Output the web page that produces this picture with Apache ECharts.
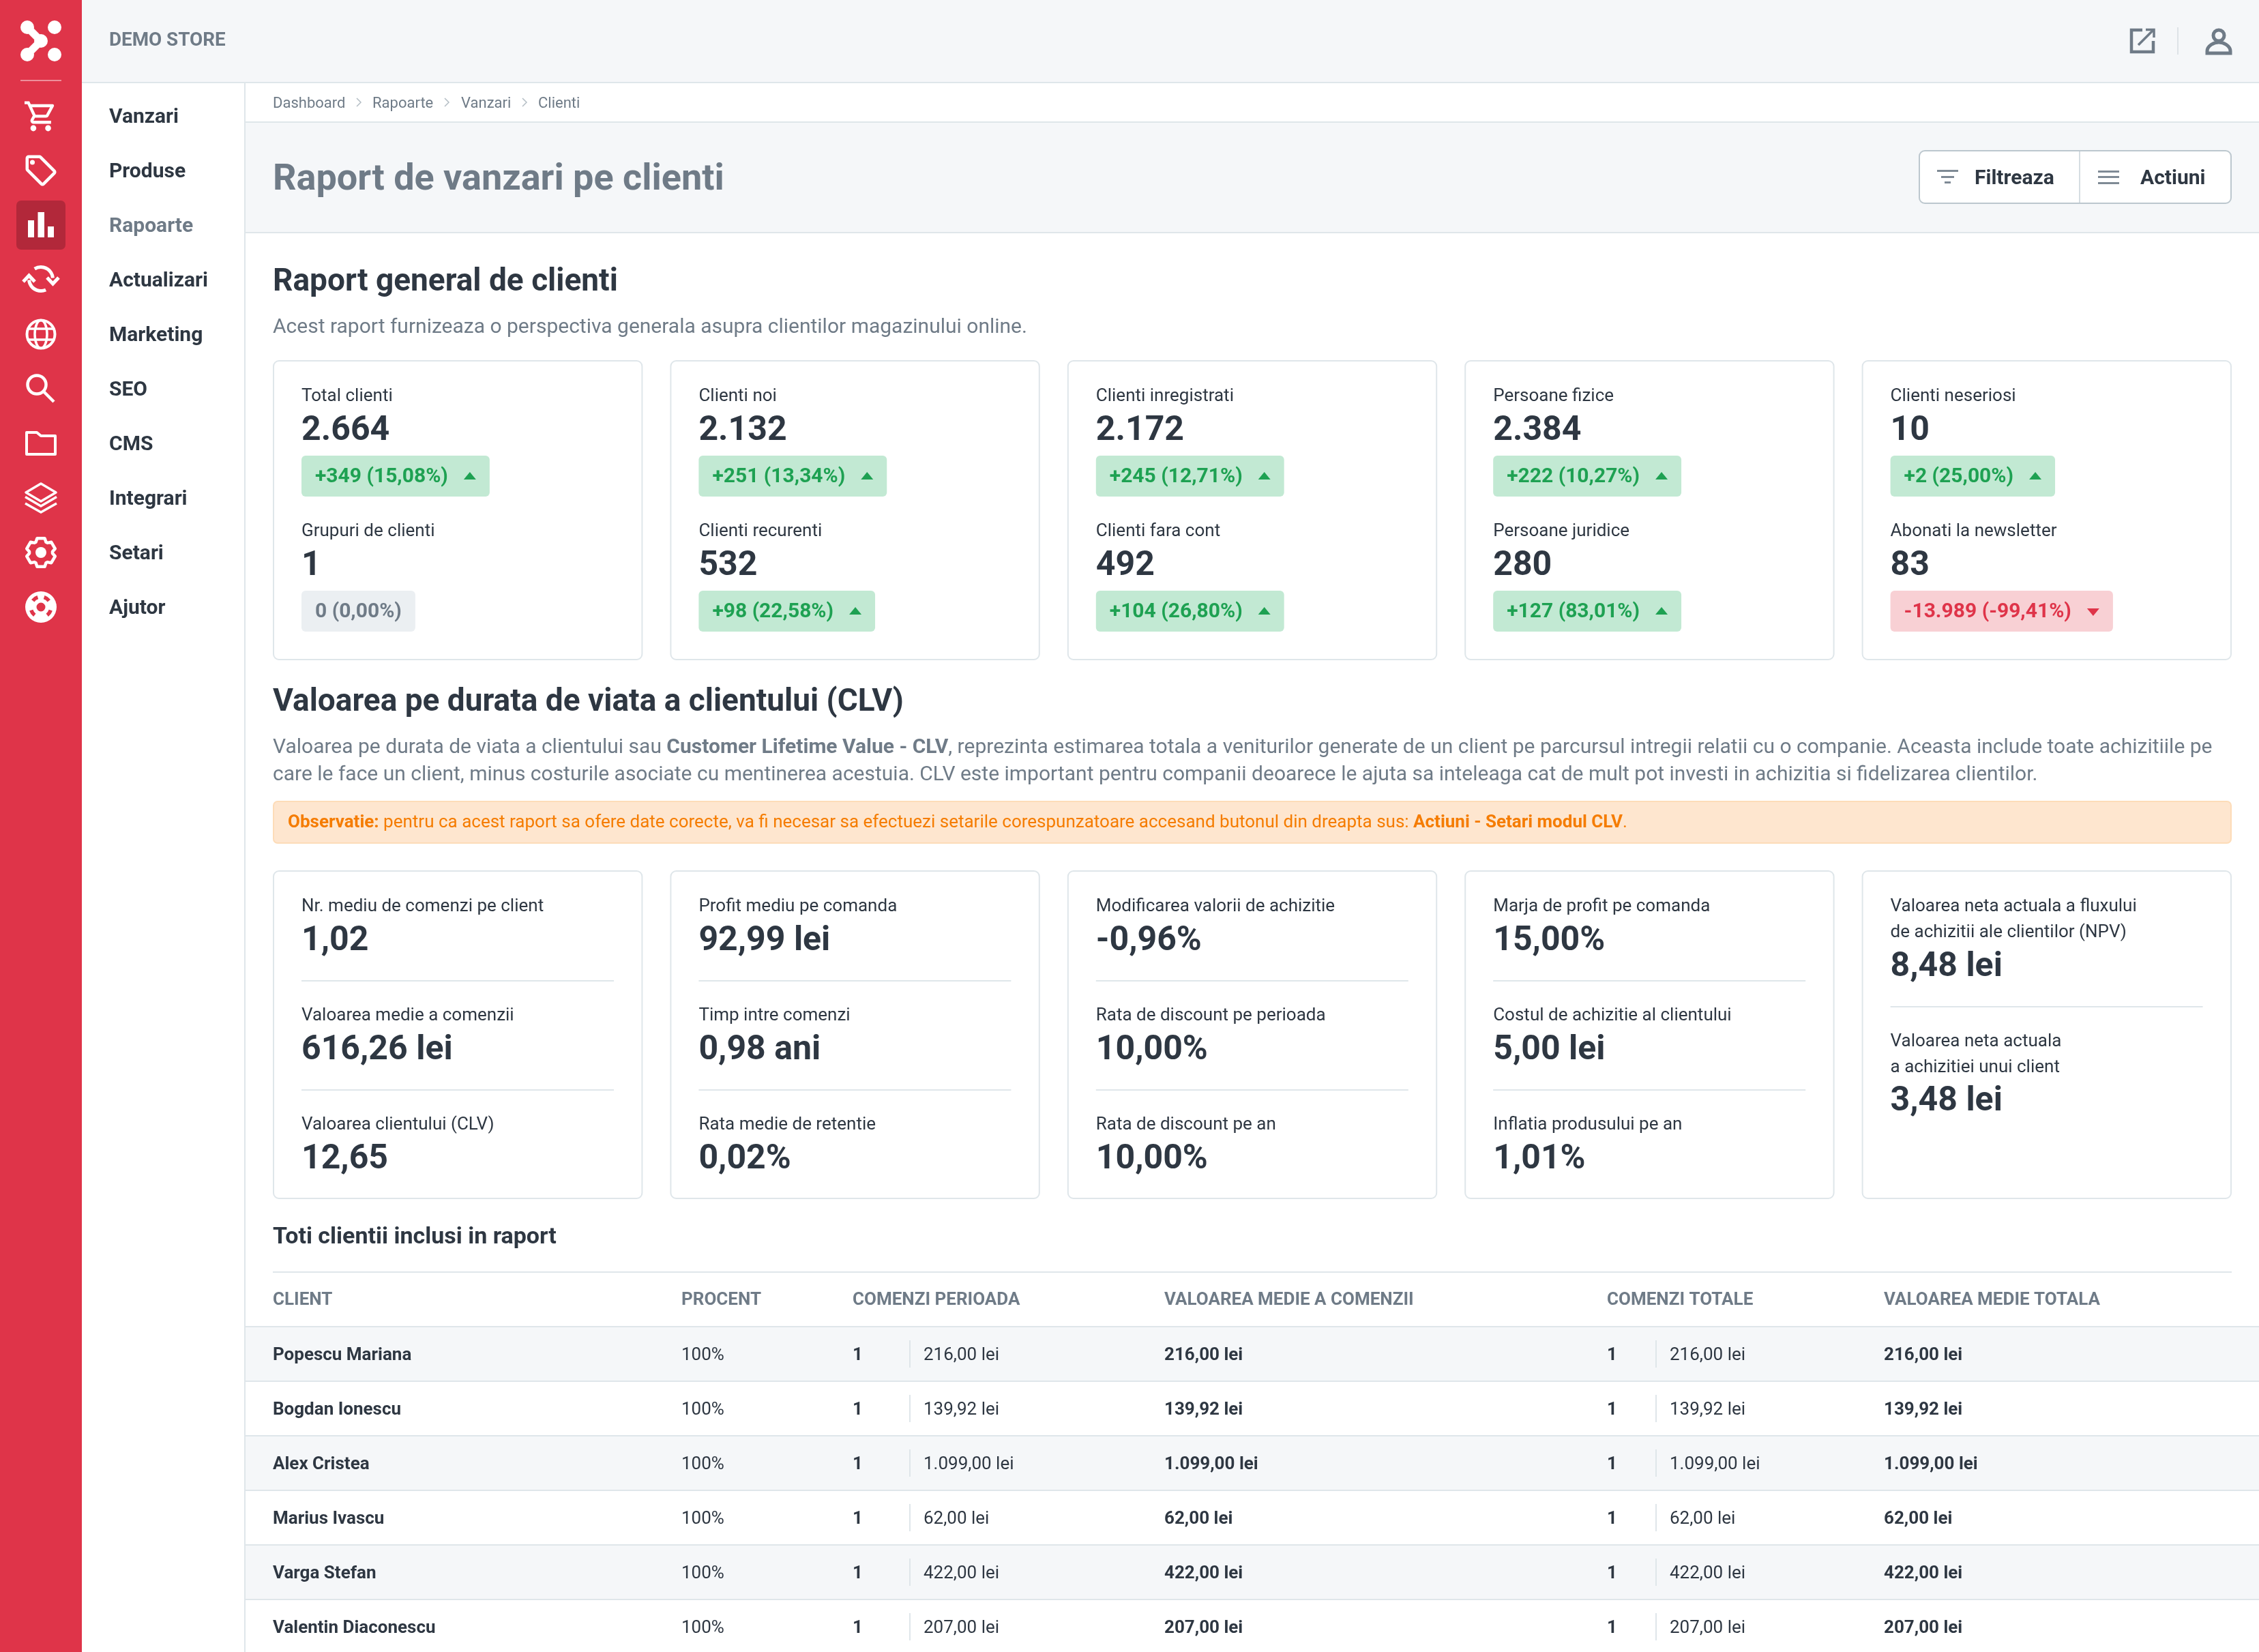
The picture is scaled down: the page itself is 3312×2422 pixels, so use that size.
<!DOCTYPE html>
<html>
<head>
<meta charset="utf-8">
<title>Raport de vanzari pe clienti</title>
<style>
html,body{margin:0;padding:0;background:#fff;}
#main{width:3312px;height:2422px;}
</style>
<script src="https://cdn.jsdelivr.net/npm/echarts@6/dist/echarts.min.js"></script>
</head>
<body>
<div id="main"></div>
<script>
// menu + breadcrumb
var menuItems = ['Vanzari','Produse','Rapoarte','Actualizari','Marketing','SEO','CMS','Integrari','Setari','Ajutor'];
var crumbs = ['Dashboard','Rapoarte','Vanzari','Clienti'];

// general report cards, top and bottom half of each card
var topLabels = ['Total clienti','Clienti noi','Clienti inregistrati','Persoane fizice','Clienti neseriosi'];
var topValues = ['2.664','2.132','2.172','2.384','10'];
var topDeltas = ['+349 (15,08%)','+251 (13,34%)','+245 (12,71%)','+222 (10,27%)','+2 (25,00%)'];
var bottomLabels = ['Grupuri de clienti','Clienti recurenti','Clienti fara cont','Persoane juridice','Abonati la newsletter'];
var bottomValues = ['1','532','492','280','83'];
var bottomDeltas = ['0 (0,00%)','+98 (22,58%)','+104 (26,80%)','+127 (83,01%)','-13.989 (-99,41%)'];

// clv cards
var clvLabels = [
    ['Nr. mediu de comenzi pe client','Valoarea medie a comenzii','Valoarea clientului (CLV)'],
    ['Profit mediu pe comanda','Timp intre comenzi','Rata medie de retentie'],
    ['Modificarea valorii de achizitie','Rata de discount pe perioada','Rata de discount pe an'],
    ['Marja de profit pe comanda','Costul de achizitie al clientului','Inflatia produsului pe an']
];
var clvValues = [
    ['1,02','616,26 lei','12,65'],
    ['92,99 lei','0,98 ani','0,02%'],
    ['-0,96%','10,00%','10,00%'],
    ['15,00%','5,00 lei','1,01%']
];
var npvLabels = [['Valoarea neta actuala a fluxului','de achizitii ale clientilor (NPV)'],['Valoarea neta actuala','a achizitiei unui client']];
var npvValues = ['8,48 lei','3,48 lei'];

// table
var tableHeaders = ['CLIENT','PROCENT','COMENZI PERIOADA','VALOAREA MEDIE A COMENZII','COMENZI TOTALE','VALOAREA MEDIE TOTALA'];
var clients = ['Popescu Mariana','Bogdan Ionescu','Alex Cristea','Marius Ivascu','Varga Stefan','Valentin Diaconescu'];
var percents = ['100%','100%','100%','100%','100%','100%'];
var ordersPeriod = ['1','1','1','1','1','1'];
var valuesPeriod = ['216,00 lei','139,92 lei','1.099,00 lei','62,00 lei','422,00 lei','207,00 lei'];
var averagePeriod = ['216,00 lei','139,92 lei','1.099,00 lei','62,00 lei','422,00 lei','207,00 lei'];
var ordersTotal = ['1','1','1','1','1','1'];
var valuesTotal = ['216,00 lei','139,92 lei','1.099,00 lei','62,00 lei','422,00 lei','207,00 lei'];
var averageTotal = ['216,00 lei','139,92 lei','1.099,00 lei','62,00 lei','422,00 lei','207,00 lei'];

var RED = '#df3449', DARK = '#2e3742', MUTED = '#6f7b87', BORDER = '#dfe6ea', SOFT = '#f5f7f9', WHITE = '#fff';
var FONT = 'Roboto';
var els = [];
var measureCtx = document.createElement('canvas').getContext('2d');

// graphic component has no 'path' type, so the svg glyphs get registered as shapes
echarts.graphic.registerShape('cartIcon', echarts.graphic.extendPath('M15.55 13c.75 0 1.41-.41 1.75-1.03l3.58-6.49c.37-.66-.11-1.48-.87-1.48H5.21l-.94-2H1v2h2l3.6 7.59-1.35 2.44C4.52 15.37 5.48 17 7 17h12v-2H7l1.1-2h7.45zM6.16 6h12.15l-2.76 5H8.53L6.16 6zM7 18c-1.1 0-1.99.9-1.99 2S5.9 22 7 22s2-.9 2-2-.9-2-2-2zm10 0c-1.1 0-1.99.9-1.99 2s.89 2 1.99 2 2-.9 2-2-.9-2-2-2z'));
echarts.graphic.registerShape('tagIcon', echarts.graphic.extendPath('M21.41 11.58l-9-9C12.05 2.22 11.55 2 11 2H4c-1.1 0-2 .9-2 2v7c0 .55.22 1.05.59 1.42l9 9c.36.36.86.58 1.41.58s1.05-.22 1.41-.59l7-7c.37-.36.59-.86.59-1.41s-.23-1.06-.59-1.42zM13 20.01L4 11V4h7v-.01l9 9-7 7.02z'));
echarts.graphic.registerShape('userBody', echarts.graphic.extendPath('M0 16 v-3 c0-8 10-13 17-13 s17 5 17 13 v3z'));

function font(weight, size){ return weight + ' ' + size + 'px ' + FONT; }
function measure(t, f){ measureCtx.font = f; return measureCtx.measureText(t).width; }

function rect(x, y, w, h, fill, r, stroke, lw){
    els.push({type:'rect', shape:{x:x, y:y, width:w, height:h, r:r || 0}, style:{fill:fill || 'none', stroke:stroke || 'none', lineWidth:lw || 0}, silent:true});
}
function line(x1, y1, x2, y2, color, lw){
    els.push({type:'line', shape:{x1:x1, y1:y1, x2:x2, y2:y2}, style:{stroke:color, lineWidth:lw || 2, lineCap:'butt'}, silent:true});
}
function txt(x, y, t, f, fill){
    // canvas middle sits a bit above the css line box centre, push down by 10% of the size
    var size = parseFloat(f.split(' ')[1]);
    els.push({type:'text', x:x, y:y + size * 0.1, style:{text:t, font:f, fill:fill, verticalAlign:'middle', align:'left'}, silent:true});
}
function poly(points, fill, stroke, lw){
    els.push({type:'polygon', shape:{points:points}, style:{fill:fill || 'none', stroke:stroke || 'none', lineWidth:lw || 0, lineJoin:'round'}, silent:true});
}
function polyline(points, stroke, lw){
    els.push({type:'polyline', shape:{points:points}, style:{fill:'none', stroke:stroke, lineWidth:lw, lineJoin:'miter'}, silent:true});
}
function circle(cx, cy, r, fill, stroke, lw){
    els.push({type:'circle', shape:{cx:cx, cy:cy, r:r}, style:{fill:fill || 'none', stroke:stroke || 'none', lineWidth:lw || 0}, silent:true});
}
function arc(cx, cy, r, a0, a1, stroke, lw){
    els.push({type:'arc', shape:{cx:cx, cy:cy, r:r, startAngle:a0 * Math.PI / 180, endAngle:a1 * Math.PI / 180, clockwise:true}, style:{fill:'none', stroke:stroke, lineWidth:lw}, silent:true});
}

/**
 * sidebar icons, one small function per glyph would be too long so they all sit here
 */
function drawRail(){
    rect(0, 0, 120, 2422, RED);
    // logo
    circle(40, 40, 10, WHITE); circle(80, 40, 10, WHITE); circle(40, 80, 10, WHITE); circle(80, 80, 10, WHITE);
    circle(60, 60, 10, WHITE);
    line(40, 40, 60, 60, WHITE, 11); line(40, 80, 60, 60, WHITE, 11);
    rect(30, 117, 60, 2, 'rgba(255,255,255,0.45)');
    // cart
    els.push({type:'cartIcon', x:33.8, y:144, scaleX:2.16, scaleY:2.2, style:{fill:WHITE}, silent:true});
    // tag
    els.push({type:'tagIcon', x:33, y:223, scaleX:2.25, scaleY:2.25, style:{fill:WHITE}, silent:true});
    circle(47.5, 238, 3.5, WHITE);
    // active reports icon
    rect(24, 294, 72, 72, '#b2283a', 7);
    rect(41, 323, 9, 25, WHITE); rect(55.5, 311, 9.5, 37, WHITE); rect(70, 332, 9, 16, WHITE);
    // sync
    arc(60, 409, 17.5, -122, -5, WHITE, 5);
    arc(60, 409, 17.5, 66, 175, WHITE, 5);
    polyline([[69,407],[77.5,416],[86,407]], WHITE, 5);
    polyline([[34,413],[42.5,404],[51,413]], WHITE, 5);
    // globe
    circle(60, 490, 20.5, null, WHITE, 4);
    els.push({type:'ellipse', shape:{cx:60, cy:490, rx:9, ry:20.5}, style:{fill:'none', stroke:WHITE, lineWidth:3.5}, silent:true});
    line(42, 482, 78, 482, WHITE, 3.5); line(42, 498, 78, 498, WHITE, 3.5);
    // search
    circle(54, 564, 13.5, null, WHITE, 4.5);
    line(64, 574, 79, 589, WHITE, 4.5);
    // folder
    poly([[39,634],[54,634],[60,639],[81,639],[81,666],[39,666]], null, WHITE, 4);
    // layers
    poly([[60,709],[82,722],[60,735],[38,722]], null, WHITE, 3.5);
    polyline([[37,728.5],[60,742],[83,728.5]], WHITE, 3.5);
    polyline([[37,738],[60,751],[83,738]], WHITE, 3.5);
    // gear
    var gear = [];
    for (var k = 0; k < 6; k++) {
        var a = -90 + 60 * k;
        [[17,-26],[21.5,-15],[21.5,15],[17,26]].forEach(function(p){
            var t = (a + p[1]) * Math.PI / 180;
            gear.push([60 + p[0] * Math.cos(t), 810 + p[0] * Math.sin(t)]);
        });
    }
    poly(gear, null, WHITE, 4.5);
    circle(60, 810, 8, WHITE);
    // help
    circle(60, 890, 23, WHITE);
    [-125, -55, 35, 145].forEach(function(c){ arc(60, 890, 15, c - 17, c + 17, RED, 5.5); });
    circle(60, 890, 6.5, RED);
}

function drawTopBar(){
    rect(120, 0, 3192, 120, SOFT);
    rect(120, 120, 3192, 2, BORDER);
    txt(160, 57, 'DEMO STORE', font(700, 27.8), MUTED);
    // open shop
    polyline([[3141,44],[3125,44],[3125,76],[3157,76],[3157,60]], MUTED, 4.5);
    line(3135, 66, 3157, 44, MUTED, 3.5);
    polyline([[3146,43.5],[3158,43.5],[3158,55]], MUTED, 3.5);
    rect(3192, 40, 2, 40, '#dde3e7');
    // account
    circle(3253, 52, 8, null, MUTED, 5);
    els.push({type:'userBody', x:3236, y:62, style:{fill:'none', stroke:MUTED, lineWidth:5}, silent:true});
}

function drawMenu(){
    rect(358, 122, 2, 2300, BORDER);
    menuItems.forEach(function(name, i){
        txt(160, 169 + 80 * i, name, font(700, 30), name == 'Rapoarte' ? MUTED : DARK);
    });
}

function drawHeader(){
    var xs = [400, 546, 676, 789];
    var marks = [526, 655, 769];
    crumbs.forEach(function(c, i){ txt(xs[i], 150, c, font(400, 22), MUTED); });
    marks.forEach(function(x){ polyline([[x - 3,144],[x + 3,150],[x - 3,156]], '#b4bec5', 1.5); });
    rect(360, 178, 2952, 2, BORDER);
    rect(360, 180, 2952, 160, SOFT);
    rect(360, 340, 2952, 2, BORDER);
    txt(400, 259, 'Raport de vanzari pe clienti', font(700, 54), MUTED);
    // buttons
    rect(2814, 221, 457, 77, WHITE, 8, '#bcc7ce', 2);
    rect(3048, 222, 2, 75, '#d5dde2');
    rect(2840, 249, 31, 3, '#7f8a95'); rect(2846, 258, 19, 3, '#7f8a95'); rect(2851, 266, 9, 3, '#7f8a95');
    rect(3076, 250, 31, 3, '#7f8a95'); rect(3076, 258, 31, 3, '#7f8a95'); rect(3076, 267, 31, 3, '#7f8a95');
    txt(2895, 259, 'Filtreaza', font(700, 30), DARK);
    txt(3138, 259, 'Actiuni', font(700, 30), DARK);
}

function drawCard(x, y, w, h){
    rect(x + 1, y + 1, w - 2, h - 2, WHITE, 8, BORDER, 2);
}

function badge(x, y, t){
    var up = t.charAt(0) == '+', down = t.charAt(0) == '-';
    var f = font(700, 30);
    var tw = measure(t, f);
    var w = 20 + tw + 20 + ((up || down) ? 41 : 0);
    rect(x, y, w, 60, up ? '#c2e9d3' : (down ? '#f8d0d4' : '#ebeff2'), 6);
    var color = up ? '#1ea152' : (down ? RED : MUTED);
    txt(x + 20, y + 28, t, f, color);
    var tx = x + 20 + tw + 23;
    if (up) poly([[tx,y + 35],[tx + 18,y + 35],[tx + 9,y + 24]], color);
    if (down) poly([[tx,y + 26],[tx + 18,y + 26],[tx + 9,y + 37]], color);
}

function drawSummary(){
    txt(400, 410, 'Raport general de clienti', font(700, 46), DARK);
    txt(400, 477, 'Acest raport furnizeaza o perspectiva generala asupra clientilor magazinului online.', font(400, 30), MUTED);
    topLabels.forEach(function(label, i){
        var x = 400 + 582.4 * i;
        drawCard(x, 528, 542.4, 440);
        txt(x + 42, 579, label, font(400, 26), DARK);
        txt(x + 42, 627, topValues[i], font(700, 50), DARK);
        badge(x + 42, 668, topDeltas[i]);
        txt(x + 42, 777, bottomLabels[i], font(400, 26), DARK);
        txt(x + 42, 825, bottomValues[i], font(700, 50), DARK);
        badge(x + 42, 866, bottomDeltas[i]);
    });
}

function drawClv(){
    txt(400, 1026, 'Valoarea pe durata de viata a clientului (CLV)', font(700, 46), DARK);
    var reg = font(400, 30), bold = font(700, 30);
    var a = 'Valoarea pe durata de viata a clientului sau ', b = 'Customer Lifetime Value - CLV';
    var c = ', reprezinta estimarea totala a veniturilor generate de un client pe parcursul intregii relatii cu o companie. Aceasta include toate achizitiile pe';
    var wa = measure(a, reg), wb = measure(b, bold);
    txt(400, 1093, a, reg, MUTED);
    txt(400 + wa, 1093, b, bold, MUTED);
    txt(400 + wa + wb, 1093, c, reg, MUTED);
    txt(400, 1133, 'care le face un client, minus costurile asociate cu mentinerea acestuia. CLV este important pentru companii deoarece le ajuta sa inteleaga cat de mult pot investi in achizitia si fidelizarea clientilor.', reg, MUTED);

    // warning
    rect(401, 1175, 2870, 61, '#fee6cf', 6, '#fddcb8', 2);
    var oReg = font(400, 26), oBold = font(700, 26);
    var o1 = 'Observatie:', o2 = ' pentru ca acest raport sa ofere date corecte, va fi necesar sa efectuezi setarile corespunzatoare accesand butonul din dreapta sus: ', o3 = 'Actiuni - Setari modul CLV', o4 = '.';
    var ox = 422;
    [[o1,oBold],[o2,oReg],[o3,oBold],[o4,oReg]].forEach(function(p){
        txt(ox, 1204, p[0], p[1], '#f57c00');
        ox += measure(p[0], p[1]);
    });

    clvLabels.forEach(function(labels, i){
        var x = 400 + 582.4 * i;
        drawCard(x, 1276, 542.4, 482);
        labels.forEach(function(label, j){
            var dy = 160 * j;
            txt(x + 42, 1327 + dy, label, font(400, 26), DARK);
            txt(x + 42, 1375 + dy, clvValues[i][j], font(700, 50), DARK);
            if (j < 2) rect(x + 42, 1437 + dy, 458, 2, BORDER);
        });
    });
    var x5 = 400 + 582.4 * 4;
    drawCard(x5, 1276, 542.4, 482);
    txt(x5 + 42, 1327, npvLabels[0][0], font(400, 26), DARK);
    txt(x5 + 42, 1365, npvLabels[0][1], font(400, 26), DARK);
    txt(x5 + 42, 1413, npvValues[0], font(700, 50), DARK);
    rect(x5 + 42, 1475, 458, 2, BORDER);
    txt(x5 + 42, 1525, npvLabels[1][0], font(400, 26), DARK);
    txt(x5 + 42, 1563, npvLabels[1][1], font(400, 26), DARK);
    txt(x5 + 42, 1610, npvValues[1], font(700, 50), DARK);
}

function drawTable(){
    var colX = [400, 999, 1250, 1707, 2356, 2762];
    txt(400, 1811, 'Toti clientii inclusi in raport', font(700, 34), DARK);
    rect(400, 1864, 2872, 2, BORDER);
    tableHeaders.forEach(function(h, i){ txt(colX[i], 1904, h, font(700, 26), MUTED); });
    rect(360, 1944, 2952, 2, BORDER);
    var reg = font(400, 26), med = font(700, 26);
    clients.forEach(function(name, i){
        var top = 1946 + 80 * i, y = top + 39;
        if (i % 2 == 0) rect(360, top, 2952, 78, SOFT);
        rect(360, top + 78, 2952, 2, BORDER);
        txt(colX[0], y, name, med, DARK);
        txt(colX[1], y, percents[i], reg, DARK);
        txt(colX[2], y, ordersPeriod[i], med, DARK);
        rect(1333, top + 19, 2, 40, BORDER);
        txt(1354, y, valuesPeriod[i], reg, DARK);
        txt(colX[3], y, averagePeriod[i], med, DARK);
        txt(colX[4], y, ordersTotal[i], med, DARK);
        rect(2427, top + 19, 2, 40, BORDER);
        txt(2448, y, valuesTotal[i], reg, DARK);
        txt(colX[5], y, averageTotal[i], med, DARK);
    });
}

drawTopBar();
drawMenu();
drawHeader();
drawSummary();
drawClv();
drawTable();
drawRail();

var chart = echarts.init(document.getElementById('main'), null, {renderer:'canvas', width:3312, height:2422});
chart.setOption({
    animation: false,
    backgroundColor: '#fff',
    graphic: {elements: els}
});
</script>
</body>
</html>
